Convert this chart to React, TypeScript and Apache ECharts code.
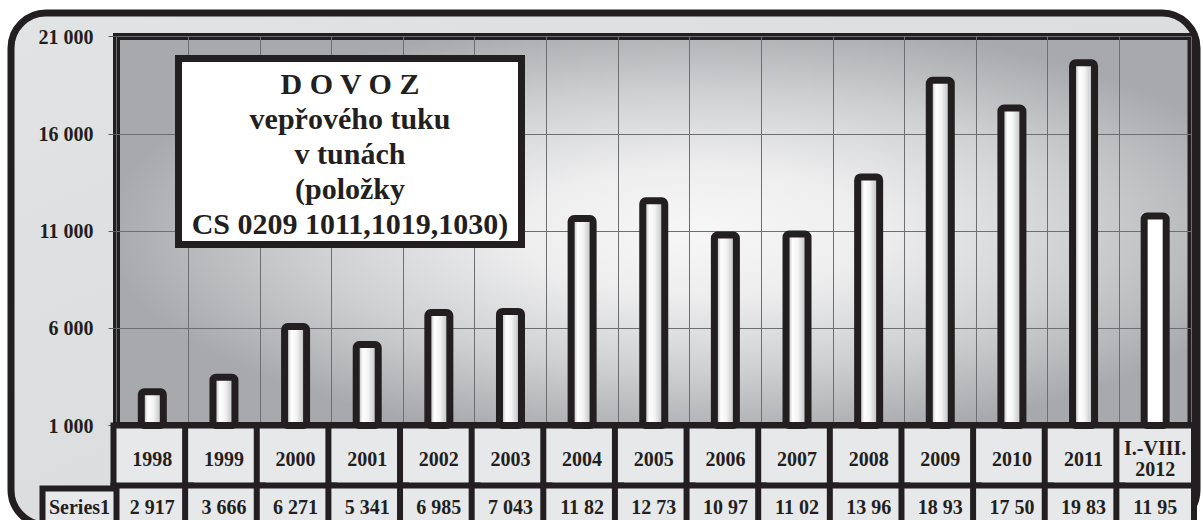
import React, { useEffect, useRef } from 'react';
import * as echarts from 'echarts';

// ---- data ----
const categories = ['1998', '1999', '2000', '2001', '2002', '2003', '2004', '2005', '2006', '2007', '2008', '2009', '2010', '2011', 'I.-VIII.\n2012'];
const importTonnes = [2917, 3666, 6271, 5341, 6985, 7043, 11820, 12730, 10970, 11020, 13960, 18930, 17500, 19830, 11950];
const tableLabels = ['2 917', '3 666', '6 271', '5 341', '6 985', '7 043', '11 82', '12 73', '10 97', '11 02', '13 96', '18 93', '17 50', '19 83', '11 95'];
const seriesName = 'Series1';
const titleLines = ['D O V O Z', 'vepřového tuku', 'v tunách', '(položky', 'CS 0209 1011,1019,1030)'];
const yMin = 1000;
const yMax = 21000;
const yStep = 5000;

// ---- layout / style ----
const W = 1203;
const H = 520;
const gridLeft = 116.5;
const gridTop = 36.5;
const gridRight = 12;
const gridBottom = 94.5;
const plotW = W - gridLeft - gridRight;
const plotH = H - gridTop - gridBottom;
const cellW = plotW / categories.length;
const ink = '#231f20';
const cellBg = '#e7e8ea';
const font = "'Liberation Serif', 'Times New Roman', serif";

const fmtThousands = (v: number) => {
  const s = String(Math.round(v));
  return s.replace(/\B(?=(\d{3})+(?!\d))/g, ' ');
};

export default function App() {
  const ref = useRef<HTMLDivElement>(null);

  useEffect(() => {
    if (!ref.current) return;
    const chart = echarts.init(ref.current, undefined, { renderer: 'svg' });

    const barGradient = {
      type: 'linear', x: 0, y: 0, x2: 1, y2: 0,
      colorStops: [
        { offset: 0, color: '#8f9092' },
        { offset: 0.3, color: '#ffffff' },
        { offset: 0.55, color: '#f3f3f3' },
        { offset: 0.85, color: '#c6c7c9' },
        { offset: 1, color: '#8c8d8f' },
      ],
    };

    const lastIdx = importTonnes.length - 1;
    const barData = importTonnes.map((v, i) =>
      i === lastIdx ? { value: v, itemStyle: { color: '#ffffff' } } : v
    );

    const catItems = categories.map((c) =>
      c.indexOf('\n') >= 0
        ? { value: c, textStyle: { lineHeight: 21, height: 51, padding: [9, 0, 0, 0] } }
        : c
    );

    const labelText = {
      fontSize: 20,
      fontWeight: 'bold',
      fontFamily: font,
      color: ink,
    };

    const option = {
      animation: false,
      grid: {
        left: gridLeft,
        top: gridTop,
        right: gridRight,
        bottom: gridBottom,
        containLabel: false,
        outerBoundsMode: 'none',
        show: true,
        backgroundColor: 'transparent',
        borderColor: ink,
        borderWidth: 7,
      },
      xAxis: [
        {
          type: 'category',
          data: catItems,
          boundaryGap: true,
          position: 'bottom',
          axisLine: { show: true, lineStyle: { color: ink, width: 7 } },
          axisTick: { show: false },
          splitLine: { show: true, interval: 0, lineStyle: { color: '#6d6e71', width: 1 } },
          axisLabel: {
            ...labelText,
            interval: 0,
            margin: 3,
            width: cellW,
            height: 60,
            lineHeight: 60,
            align: 'center',
            backgroundColor: cellBg,
            borderColor: ink,
            borderWidth: 6,
          },
        },
        {
          type: 'category',
          data: categories,
          boundaryGap: true,
          position: 'bottom',
          offset: 60,
          axisLine: { show: false },
          axisTick: { show: false },
          splitLine: { show: false },
          axisLabel: {
            ...labelText,
            interval: 0,
            margin: 3,
            width: cellW,
            height: 36,
            lineHeight: 36,
            align: 'center',
            backgroundColor: cellBg,
            borderColor: ink,
            borderWidth: 6,
            formatter: (_v: string, i: number) => tableLabels[i],
          },
        },
      ],
      yAxis: {
        type: 'value',
        min: yMin,
        max: yMax,
        interval: yStep,
        axisLine: { show: false },
        axisTick: { show: true, length: 8, lineStyle: { color: '#58595b', width: 1 } },
        splitLine: { show: true, lineStyle: { color: '#6d6e71', width: 1 } },
        axisLabel: {
          ...labelText,
          margin: 23,
          formatter: (v: number) => fmtThousands(v),
        },
      },
      series: [
        {
          type: 'bar',
          name: seriesName,
          xAxisIndex: 0,
          data: barData,
          barWidth: 29,
          itemStyle: {
            color: barGradient,
            borderColor: ink,
            borderWidth: 7,
            borderRadius: 3,
          },
        },
      ],
      graphic: [
        {
          type: 'rect',
          z: -30,
          shape: { x: 11, y: 13, width: 1186, height: 512, r: 35 },
          style: {
            fill: {
              type: 'linear', x: 0, y: 0, x2: 1, y2: 1,
              colorStops: [
                { offset: 0, color: '#e2e3e5' },
                { offset: 0.5, color: '#dcdddf' },
                { offset: 1, color: '#d4d5d7' },
              ],
            },
            stroke: ink,
            lineWidth: 7,
          },
          silent: true,
        },
        {
          type: 'rect',
          z: -20,
          x: gridLeft,
          y: gridTop,
          scaleX: plotW,
          scaleY: plotH,
          shape: { x: 0, y: 0, width: 1, height: 1 },
          style: {
            fill: {
              type: 'radial', x: 0.54, y: 0.5, r: 0.55,
              colorStops: [
                { offset: 0, color: '#f7f7f7' },
                { offset: 0.3, color: '#eeeeef' },
                { offset: 0.65, color: '#cfd0d2' },
                { offset: 1, color: '#a7a9ac' },
              ],
            },
          },
          silent: true,
        },
        {
          type: 'rect',
          z: 5,
          shape: { x: 42.5, y: 488.5, width: gridLeft - 42.5, height: 36 },
          style: { fill: cellBg, stroke: ink, lineWidth: 6 },
          silent: true,
        },
        {
          type: 'text',
          z: 6,
          x: (42.5 + gridLeft) / 2,
          y: 506.5,
          style: {
            text: seriesName,
            fill: ink,
            fontSize: 20,
            fontWeight: 'bold',
            fontFamily: font,
            align: 'center',
            verticalAlign: 'middle',
            textAlign: 'center',
            textVerticalAlign: 'middle',
          },
          silent: true,
        },
        {
          type: 'rect',
          z: 100,
          shape: { x: 178.5, y: 58.5, width: 343, height: 186 },
          style: { fill: '#ffffff', stroke: ink, lineWidth: 7 },
          silent: true,
        },
        {
          type: 'text',
          z: 101,
          x: 350,
          y: 153,
          style: {
            text: titleLines.join('\n'),
            fill: ink,
            fontSize: 30,
            fontWeight: 'bold',
            fontFamily: font,
            lineHeight: 35,
            align: 'center',
            verticalAlign: 'middle',
            textAlign: 'center',
            textVerticalAlign: 'middle',
          },
          silent: true,
        },
      ],
    };

    chart.setOption(option as any);
    return () => chart.dispose();
  }, []);

  return (
    <div
      ref={ref}
      style={{ position: 'absolute', left: 0, top: 0, width: W, height: H, background: '#ffffff' }}
    />
  );
}
